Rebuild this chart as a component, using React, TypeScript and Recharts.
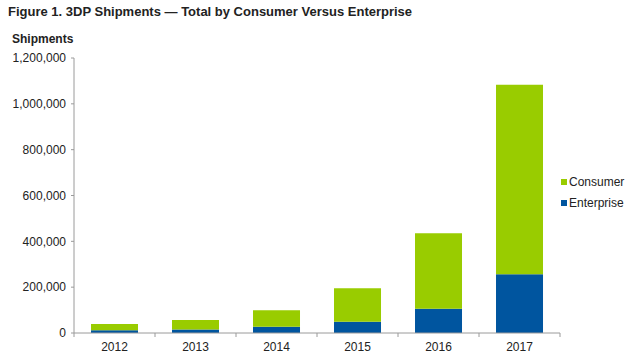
import { BarChart, Bar, XAxis, YAxis } from "recharts";

const YEARS = ["2012", "2013", "2014", "2015", "2016", "2017"];
const ENTERPRISE = [12000, 15000, 27000, 49000, 106000, 256000];
const CONSUMER = [27000, 42000, 72000, 146000, 329000, 827000];
const Y_TICKS = [0, 200000, 400000, 600000, 800000, 1000000, 1200000];
const LEGEND = [
  { name: "Consumer", key: "consumer" },
  { name: "Enterprise", key: "enterprise" },
];

const C: Record<string, string> = {
  consumer: "#99CC00",
  enterprise: "#00559F",
  axis: "#9a9a9a",
  text: "#222222",
};

const W = 640;
const H = 355;
const M = { top: 58, right: 80, bottom: 0, left: 0 };
const Y_W = 74;
const X_H = 22;
const PLOT_W = W - M.left - M.right - Y_W;

const data = YEARS.map((year, i) => ({
  year,
  enterprise: ENTERPRISE[i],
  consumer: CONSUMER[i],
}));

function XTick(props: any) {
  const { x, y, payload, index } = props;
  const half = PLOT_W / YEARS.length / 2;
  return (
    <g>
      <line x1={x - half} x2={x - half} y1={y - 8} y2={y - 4} stroke={C.axis} />
      {index === YEARS.length - 1 && (
        <line x1={x + half} x2={x + half} y1={y - 8} y2={y - 4} stroke={C.axis} />
      )}
      <text x={x} y={y + 10} textAnchor="middle" fontSize={12} fill={C.text}>
        {payload.value}
      </text>
    </g>
  );
}

export default function App() {
  return (
    <div
      style={{
        position: "absolute",
        left: 0,
        top: 0,
        width: W,
        height: H,
        background: "#fff",
        fontFamily: "'Liberation Sans', Arial, sans-serif",
        color: C.text,
      }}
    >
      <div style={{ position: "absolute", left: 8, top: 4, fontSize: 13, fontWeight: 700, whiteSpace: "nowrap" }}>
        Figure 1. 3DP Shipments — Total by Consumer Versus Enterprise
      </div>
      <div style={{ position: "absolute", left: 12, top: 32, fontSize: 12, fontWeight: 700 }}>Shipments</div>
      <div style={{ position: "absolute", left: 561, top: 171 }}>
        {LEGEND.map((it) => (
          <div key={it.key} style={{ display: "flex", alignItems: "center", height: 21, fontSize: 12 }}>
            <span style={{ width: 6, height: 6, background: C[it.key], marginRight: 2, display: "inline-block" }} />
            {it.name}
          </div>
        ))}
      </div>
      <BarChart width={W} height={H} data={data} margin={M} barCategoryGap="21%">
        <XAxis
          dataKey="year"
          height={X_H}
          axisLine={{ stroke: C.axis }}
          tickLine={false}
          tick={<XTick />}
          interval={0}
        />
        <YAxis
          width={Y_W}
          domain={[0, 1200000]}
          ticks={Y_TICKS}
          interval={0}
          axisLine={{ stroke: C.axis }}
          tickLine={{ stroke: C.axis }}
          tickSize={3}
          tickMargin={5}
          tick={{ fontSize: 12, fill: C.text }}
          tickFormatter={(v: number) => v.toLocaleString("en-US")}
        />
        <Bar dataKey="enterprise" name="Enterprise" stackId="a" fill={C.enterprise} isAnimationActive={false} />
        <Bar dataKey="consumer" name="Consumer" stackId="a" fill={C.consumer} isAnimationActive={false} />
      </BarChart>
    </div>
  );
}
